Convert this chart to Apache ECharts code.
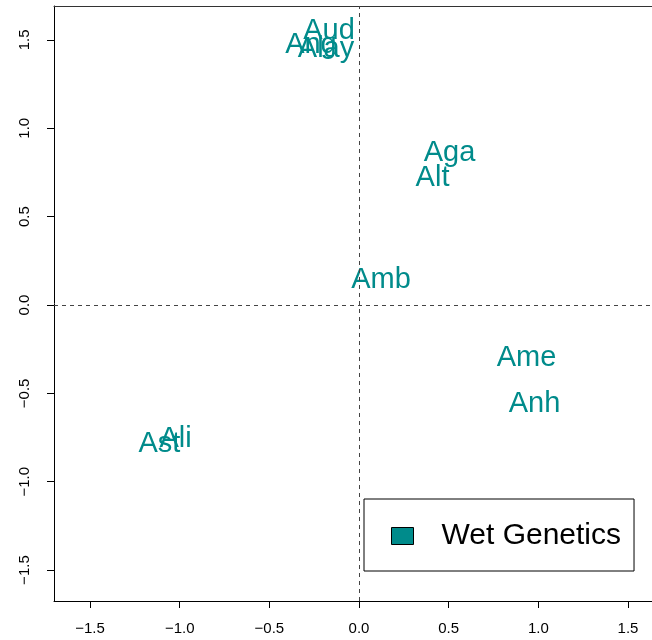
<!DOCTYPE html>
<html>
<head>
<meta charset="utf-8">
<script src="https://cdn.jsdelivr.net/npm/echarts@6/dist/echarts.min.js"></script>
<style>
html,body{margin:0;padding:0;background:#fff;}
#chart{width:652px;height:640px;}
</style>
</head>
<body>
<div id="chart"></div>
<script>
var labels = ['Aud', 'Ang', 'Alay', 'Aga', 'Alt', 'Amb', 'Ame', 'Anh', 'Ali', 'Ast'];
var xValues = [-0.167, -0.268, -0.184, 0.505, 0.410, 0.123, 0.934, 0.979, -1.023, -1.113];
var yValues = [1.552, 1.472, 1.450, 0.860, 0.716, 0.141, -0.300, -0.563, -0.758, -0.787];
var xTicks = [-1.5, -1.0, -0.5, 0.0, 0.5, 1.0, 1.5];
var yTicks = [-1.5, -1.0, -0.5, 0.0, 0.5, 1.0, 1.5];
var seriesName = 'Wet Genetics';

var teal = '#008B8B';
var font = 'Liberation Sans, Arial, Helvetica, sans-serif';

var points = labels.map(function (n, i) {
  return { name: n, value: [xValues[i], yValues[i]] };
});

function fmt(v) {
  return Number(v).toFixed(1).replace('-', '\u2212');
}

var chart = echarts.init(document.getElementById('chart'), null, { renderer: 'canvas' });
chart.setOption({
  animation: false,
  backgroundColor: '#fff',
  grid: { left: 54, top: 6, right: 0, bottom: 39, containLabel: false },
  xAxis: [{
    type: 'value', min: -1.701, max: 1.634,
    splitLine: { show: false },
    axisLine: { show: true, onZero: false, lineStyle: { color: '#000', width: 1 } },
    axisTick: { show: true, length: 7, customValues: xTicks, lineStyle: { color: '#000' } },
    axisLabel: { show: true, customValues: xTicks, margin: 20, fontSize: 15, color: '#000', fontFamily: font, formatter: fmt }
  }, {
    type: 'value', position: 'top', min: -1.701, max: 1.634,
    splitLine: { show: false },
    axisLine: { show: true, onZero: false, lineStyle: { color: '#333', width: 1 } },
    axisTick: { show: false }, axisLabel: { show: false }
  }],
  yAxis: {
    type: 'value', min: -1.675, max: 1.692,
    splitLine: { show: false },
    axisLine: { show: true, onZero: false, lineStyle: { color: '#000', width: 1 } },
    axisTick: { show: true, length: 7, customValues: yTicks, lineStyle: { color: '#000' } },
    axisLabel: { show: true, customValues: yTicks, rotate: 90, margin: 22, fontSize: 15, color: '#000', fontFamily: font, formatter: fmt }
  },
  legend: {
    left: 364, top: 499,
    orient: 'horizontal',
    padding: [22, 13, 20, 27],
    borderColor: '#000', borderWidth: 1,
    itemWidth: 22, itemHeight: 17,
    selectedMode: false,
    data: [{ name: seriesName, icon: 'rect' }],
    itemStyle: { color: teal, borderColor: '#000', borderWidth: 1, opacity: 1 },
    textStyle: { fontSize: 30, color: '#000', fontFamily: font, padding: [0, 0, 0, 23] }
  },
  series: [{
    name: seriesName,
    type: 'scatter',
    xAxisIndex: 0,
    symbolSize: 0,
    itemStyle: { color: teal, opacity: 1 },
    data: points,
    label: {
      show: true, position: 'inside', formatter: '{b}',
      color: teal, opacity: 1, fontSize: 29, fontFamily: font,
      align: 'center', verticalAlign: 'middle'
    },
    labelLayout: { hideOverlap: false },
    markLine: {
      silent: true, symbol: 'none', animation: false,
      label: { show: false },
      lineStyle: { color: '#444', type: [4, 4], width: 1 },
      data: [{ xAxis: 0 }, { yAxis: 0 }]
    }
  }]
});
</script>
</body>
</html>
